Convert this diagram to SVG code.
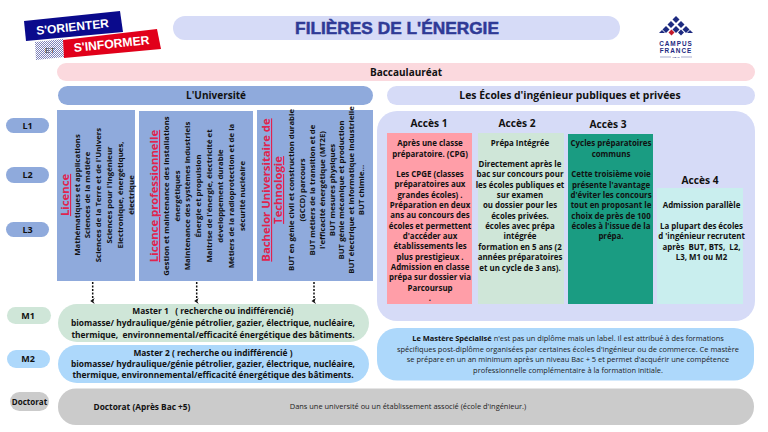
<svg xmlns="http://www.w3.org/2000/svg" width="768" height="432" viewBox="0 0 768 432">
<style>
text{font-family:"Open Sans","Noto Sans",sans-serif;fill:#111;text-anchor:middle;font-weight:700}
.s{font-size:7.800px}.h{font-size:10.2px}.t{font-size:10px}
.r{font-size:7.9px}.m{font-size:8.4px}.n{font-size:7.45px;font-weight:400;fill:#222}
.u{font-size:11.3px;fill:#e0234e;text-decoration:underline}
.lbl{font-size:9px}
.w{font-family:"Liberation Sans",sans-serif;fill:#fff;font-weight:700}
.cf{font-family:"Liberation Sans",sans-serif;font-size:6.400px;letter-spacing:1px;fill:#1d2a80}
.card{fill:#8faadc}
</style>
<defs><marker id="ah" markerWidth="6" markerHeight="5" refX="3" refY="2" orient="auto" markerUnits="userSpaceOnUse"><path d="M0 0L3 1.500L6 0L3 4.500Z" fill="#111"/></marker>
<pattern id="hatch" width="2" height="2" patternUnits="userSpaceOnUse"><rect width="2" height="2" fill="#fff"/><path d="M0 2L2 0" stroke="#5a5fa8" stroke-width=".8"/></pattern></defs>
<rect width="768" height="432" fill="#fff"/>
<g id="logo-orienter">
<polygon points="35,42 63,39 64,57 36,60" fill="url(#hatch)"/>
<text x="50" y="52.500" style="font-size:8px;font-weight:400;fill:#444;font-family:'Liberation Sans',sans-serif">ET</text>
<polygon points="24,21 120,11 123,32 26,41" fill="#0a0a8c"/>
<polygon points="63,40 157,29 161,49 64,58" fill="#e1001a"/>
<text class="w" transform="translate(73,31) rotate(-6)" style="font-size:12px">S'ORIENTER</text>
<text class="w" transform="translate(112,48) rotate(-6)" style="font-size:12.200px">S'INFORMER</text>
</g>
<g id="title"><rect x="173" y="16" width="447" height="24" rx="12" fill="#d6dbf7"/>
<text x="397" y="34" style="font-family:'Liberation Sans',sans-serif;font-size:17.300px;fill:#2f3a96;stroke:#2f3a96;stroke-width:.5">FILIÈRES DE L'ÉNERGIE</text></g>
<g id="logo-campus">
<g fill="#1d2a80"><path d="M676 16l3.500 3.500-3.500 3.500-3.500-3.500z"/><path d="M671 21l3.500 3.500-3.500 3.500-3.500-3.500z"/><path d="M681 21l3.500 3.500-3.500 3.500-3.500-3.500z"/><path d="M666 26l3.500 3.500-3.500 3.500-3.500-3.500z"/><path d="M676 26l3.500 3.500-3.500 3.500-3.500-3.500z"/><path d="M686 26l3.500 3.500-3.500 3.500-3.500-3.500z"/><path d="M659 33l3-3 3 3z"/><path d="M681 29.500l3 3-3 3-3-3z"/><path d="M687 33l3-3 3 3z"/></g>
<path d="M671.500 29.500l3 3-3 3-3-3z" fill="#c2182b"/>
<text x="676" y="45.500" class="cf">CAMPUS</text>
<text x="676" y="53" class="cf">FRANCE</text>
<text x="676" y="58" style="font-family:'Liberation Sans',sans-serif;font-size:2.500px;font-weight:400;fill:#1d2a80">LIBAN</text>
<path d="M660 57h11M681 57h11" stroke="#1d2a80" stroke-width=".4"/>
</g>
<g id="bac"><rect x="57" y="63" width="698" height="18" rx="9" fill="#fbd9de"/><text x="406" y="75.500" class="t">Baccaulauréat</text></g>
<g id="universite"><rect x="58" y="86" width="315" height="19" rx="9.500" fill="#8faadc"/><text x="216" y="98.500" class="t">L'Université</text></g>
<g id="ecoles"><rect x="387" y="86" width="368" height="19" rx="9.500" fill="#d6dbf7"/><text x="570" y="98.500" class="t" style="font-size:10.400px">Les Écoles d'ingénieur publiques et privées</text></g>
<g id="l1"><rect x="6" y="118" width="43" height="15" rx="7.500" fill="#8faadc"/><text x="27.500" y="128.500" class="lbl">L1</text></g>
<g id="l2"><rect x="6" y="167" width="43" height="16" rx="8" fill="#8faadc"/><text x="27.500" y="178" class="lbl">L2</text></g>
<g id="l3"><rect x="6" y="222" width="43" height="15" rx="7.500" fill="#8faadc"/><text x="27.500" y="232.500" class="lbl">L3</text></g>
<g id="m1"><rect x="7" y="307" width="44" height="17" rx="8.500" fill="#cfe6d8"/><text x="28" y="318.500" class="lbl">M1</text></g>
<g id="m2"><rect x="7" y="350" width="43" height="18" rx="9" fill="#add8fb"/><text x="28" y="362" class="lbl">M2</text></g>
<g id="doc-label"><rect x="10" y="392" width="39" height="19" rx="9.500" fill="#cbcbcb"/><text x="29.500" y="405" style="font-size:8px">Doctorat</text></g>
<g id="licence"><rect class="card" x="57" y="110" width="78" height="171"/>
<g transform="translate(96,195) rotate(-90)"><text y="-27" class="u">Licence</text>
<text y="-16" class="s">Mathématiques et applications</text><text y="-6" class="s">Sciences de la matière</text><text y="5" class="s">Sciences de la Terre et de l'Univers</text><text y="16" class="s">Sciences pour l'ingénieur</text><text y="27" class="s">Electronique, énergétiques,</text><text y="38" class="s">électrique</text></g></g>
<g id="licence-pro"><rect class="card" x="139" y="111" width="114" height="170"/>
<g transform="translate(196,196) rotate(-90)"><text y="-38" class="u">Licence professionnelle</text>
<text y="-27" class="s">Gestion et maintenance des installations</text><text y="-16" class="s">énergétiques</text><text y="-6" class="s">Maintenance des systèmes industriels</text><text y="5" class="s">Énergie et propulsion</text><text y="16" class="s">Maitrise de l'énergie, électricité et</text><text y="27" class="s">développement durable</text><text y="38" class="s">Métiers de la radioprotection et de la</text><text y="49" class="s">sécurité nucléaire</text></g></g>
<g id="but"><rect class="card" x="257" y="110" width="116" height="171"/>
<g transform="translate(315,190) rotate(-90)"><text y="-45" class="u">Bachelor Universitaire de</text><text y="-33" class="u">Technologie</text>
<text y="-21" class="s">BUT en génie civil et construction durable</text><text y="-10" class="s">(GCCD) parcours</text><text y="0" class="s">BUT métiers de la transition et de</text><text y="10" class="s">l'efficacité énergétique (MT2E)</text><text y="20" class="s">BUT mesures physiques</text><text y="29" class="s">BUT génie mécanique et production</text><text y="39" class="s">BUT électrique et informatique industrielle</text><text y="49" class="s">BUT chimie...</text></g></g>
<g id="acces-panel"><rect x="377" y="111" width="378" height="210" rx="20" fill="#d6dbf7"/></g>
<g id="acces1"><rect x="387" y="133" width="85" height="171" fill="#ff9ea8"/>
<text x="429" y="127" class="h">Accès 1</text>
<text x="430" y="145.500" class="r">Après une classe</text><text x="430" y="156.500" class="r">préparatoire. (CPG)</text>
<text x="430" y="176.500" class="r">Les CPGE (classes</text><text x="430" y="187" class="r">préparatoires aux</text><text x="430" y="197.500" class="r">grandes écoles) .</text><text x="430" y="207.500" class="r">Préparation en deux</text><text x="430" y="218" class="r">ans au concours des</text><text x="430" y="228.500" class="r">écoles et permettent</text><text x="430" y="239" class="r">d'accéder aux</text><text x="430" y="249" class="r">établissements les</text><text x="430" y="259.500" class="r">plus prestigieux .</text><text x="430" y="270" class="r">Admission en classe</text><text x="430" y="280" class="r">prépa sur dossier via</text><text x="430" y="290.500" class="r">Parcoursup</text><text x="430" y="301" class="r">.</text></g>
<g id="acces2"><rect x="478" y="133" width="86" height="171" fill="#cfe6d8"/>
<text x="517" y="127" class="h">Accès 2</text>
<text x="520" y="146" class="r">Prépa Intégrée</text><text x="520" y="166.500" class="r">Directement après le</text><text x="520" y="177" class="r">bac sur concours pour</text><text x="520" y="187.500" class="r">les écoles publiques et</text><text x="520" y="197.500" class="r">sur examen</text><text x="520" y="208" class="r">ou dossier pour les</text><text x="520" y="218.500" class="r">écoles privées.</text><text x="520" y="229" class="r">écoles avec prépa</text><text x="520" y="239" class="r">intégrée</text><text x="520" y="249.500" class="r">formation en 5 ans (2</text><text x="520" y="260" class="r">années préparatoires</text><text x="520" y="270.500" class="r">et un cycle de 3 ans).</text></g>
<g id="acces3"><rect x="568" y="134" width="85" height="170" fill="#1a9c82"/>
<text x="608" y="128" class="h">Accès 3</text>
<text x="611" y="146" class="r">Cycles préparatoires</text><text x="611" y="156.500" class="r">communs</text><text x="611" y="177" class="r">Cette troisième voie</text><text x="611" y="187.500" class="r">présente l'avantage</text><text x="611" y="197.500" class="r">d'éviter les concours</text><text x="611" y="208" class="r">tout en proposant le</text><text x="611" y="218.500" class="r">choix de près de 100</text><text x="611" y="229" class="r">écoles à l'issue de la</text><text x="611" y="239" class="r">prépa.</text></g>
<g id="acces4"><rect x="657" y="188" width="86" height="116" fill="#c9eeee"/>
<text x="700" y="184" class="h">Accès 4</text>
<text x="701.500" y="208" class="r">Admission parallèle</text><text x="701.500" y="228.500" class="r">La plupart des écoles</text><text x="701.500" y="239" class="r">d 'ingénieur recrutent</text><text x="701.500" y="249.500" class="r" xml:space="preserve">après  BUT, BTS,  L2,</text><text x="701.500" y="260" class="r">L3, M1 ou M2</text></g>
<g id="master1"><rect x="58" y="304" width="311" height="38" rx="19" fill="#cfe6d8"/>
<text x="213" y="314" class="m" xml:space="preserve">Master 1   ( recherche ou indifférencié)</text><text x="213" y="326" class="m">biomasse/ hydraulique/génie pétrolier, gazier, électrique, nucléaire,</text><text x="213" y="338" class="m" xml:space="preserve">thermique,  environnemental/efficacité énergétique des bâtiments.</text></g>
<g id="master2"><rect x="58" y="345" width="311" height="38" rx="19" fill="#add8fb"/>
<text x="213" y="356" class="m">Master 2 ( recherche ou indifférencié )</text><text x="213" y="367" class="m">biomasse/ hydraulique/génie pétrolier, gazier, électrique, nucléaire,</text><text x="213" y="378" class="m">thermique, environnemental/efficacité énergétique des bâtiments.</text></g>
<g id="mastere"><rect x="377" y="328" width="377" height="52.500" rx="20" fill="#add8fb"/>
<text x="568" y="341" class="n"><tspan style="font-weight:700;fill:#111">Le Mastère Spécialisé</tspan> n'est pas un diplôme mais un label. Il est attribué à des formations</text><text x="568" y="352" class="n">spécifiques post-diplôme organisées par certaines écoles d'ingénieur ou de commerce. Ce mastère</text><text x="568" y="362" class="n">se prépare en un an minimum après un niveau Bac + 5 et permet d'acquérir une compétence</text><text x="568" y="373" class="n">professionnelle complémentaire à la formation initiale.</text></g>
<g id="doctorat"><rect x="58" y="388.500" width="696" height="36.500" rx="18" fill="#cbcbcb"/>
<text x="142" y="410" style="font-size:8.300px">Doctorat (Après Bac +5)</text><text x="408" y="409" class="n">Dans une université ou un établissement associé (école d'ingénieur.)</text></g>
<g id="connectors" fill="none" stroke="#111" stroke-width="1.500" stroke-dasharray="2 1.500" marker-end="url(#ah)">
<path d="M92.700 282V301"/><path d="M196.700 282V301"/><path d="M314 282V301"/>
</g>
</svg>
